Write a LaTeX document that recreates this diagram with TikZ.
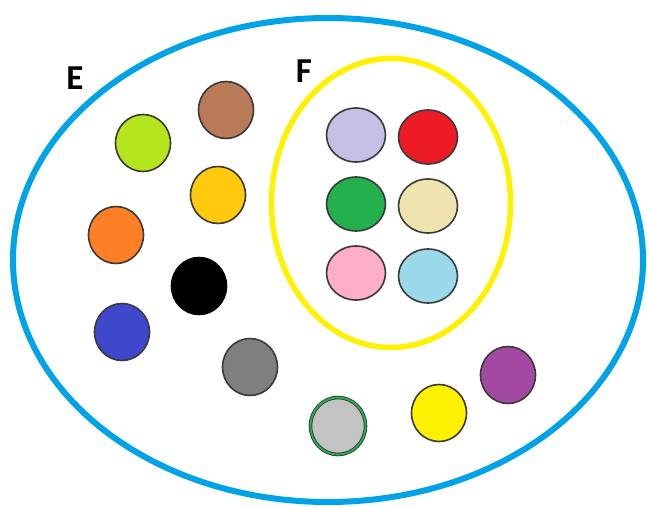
\documentclass[tikz,border=0pt]{standalone}
\usepackage{fontspec}
\setmainfont{Carlito}
\usetikzlibrary{shapes.geometric}
\definecolor{outerblue}{HTML}{00A2E8}
\definecolor{inneryellow}{HTML}{FFF200}
\definecolor{cLime}{HTML}{B5E61D}
\definecolor{cBrown}{HTML}{B97A57}
\definecolor{cGold}{HTML}{FFC90E}
\definecolor{cOrange}{HTML}{FF7F27}
\definecolor{cBlue}{HTML}{3F48CC}
\definecolor{cGray}{HTML}{7F7F7F}
\definecolor{cSilver}{HTML}{C3C3C3}
\definecolor{cGreen}{HTML}{22B14C}
\definecolor{cYellow}{HTML}{FFF200}
\definecolor{cPurple}{HTML}{A349A4}
\definecolor{cLavender}{HTML}{C8BFE7}
\definecolor{cRed}{HTML}{ED1C24}
\definecolor{cCream}{HTML}{EFE4B0}
\definecolor{cPink}{HTML}{FFAEC9}
\definecolor{cLightBlue}{HTML}{99D9EA}
\definecolor{rim}{HTML}{3A3A3A}
\tikzset{
  dot/.style={ellipse, draw=rim, line width=1.6pt, inner sep=0pt, minimum width=55pt, minimum height=57pt},
  fdot/.style={ellipse, draw=rim, line width=1.6pt, inner sep=0pt, minimum width=59pt, minimum height=54pt},
  setlabel/.style={inner sep=0pt, font=\fontsize{35}{35}\selectfont\bfseries}
}
\begin{document}
\begin{tikzpicture}[x=1pt,y=-1pt]
\useasboundingbox (0,0) rectangle (647,506);
\node[ellipse, draw=outerblue, line width=6pt, inner sep=0pt, minimum width=630pt, minimum height=484pt] (E) at (328,260) {};
\node[ellipse, draw=inneryellow, line width=5.5pt, inner sep=0pt, minimum width=239pt, minimum height=289pt] (F) at (391,203) {};
\node[setlabel] (Elabel) at (75,78) {E};
\node[setlabel] (Flabel) at (304,71) {F};
% elements of E outside F
\node[dot, fill=cLime] (lime) at (143,143) {};
\node[dot, fill=cBrown] (brown) at (226,110) {};
\node[dot, fill=cGold] (gold) at (218,195) {};
\node[dot, fill=cOrange] (orange) at (116,235) {};
\node[dot, fill=black, draw=black] (black) at (199,286) {};
\node[dot, fill=cBlue] (blue) at (122,332) {};
\node[dot, fill=cGray] (gray) at (250,367) {};
\node[dot, fill=cSilver, draw=rim, double=cGreen, double distance=1.8pt, line width=0.9pt] (silver) at (338,426) {};
\node[dot, fill=cYellow] (yellow) at (439,413) {};
\node[dot, fill=cPurple] (purple) at (508,375) {};
% elements of F
\node[fdot, fill=cLavender] (lavender) at (356,135) {};
\node[fdot, fill=cRed] (red) at (428,137) {};
\node[fdot, fill=cGreen] (green) at (356,204) {};
\node[fdot, fill=cCream] (cream) at (428,206) {};
\node[fdot, fill=cPink] (pink) at (356,273) {};
\node[fdot, fill=cLightBlue] (lightblue) at (428,276) {};
\end{tikzpicture}
\end{document}
